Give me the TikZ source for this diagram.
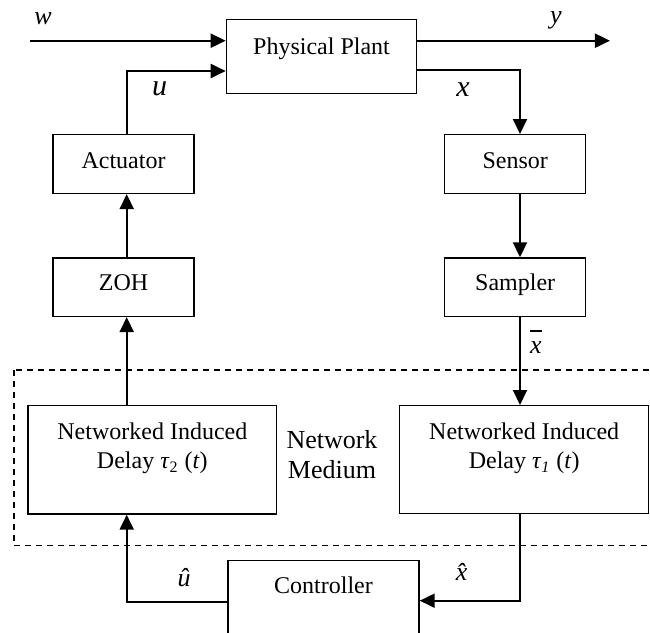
\documentclass[tikz,border=0pt]{standalone}
\usepackage{fontspec}
\setmainfont{Liberation Serif}
\usetikzlibrary{arrows.meta}
\tikzset{
  blk/.style={draw, line width=0.7pt, inner sep=0pt, anchor=north west, align=center,
    font=\fontsize{12}{14.5}\selectfont},
  sig/.style={line width=1pt, -{Triangle[length=7.5pt,width=7pt]}},
  lbl/.style={inner sep=0pt, font=\fontsize{13}{15}\selectfont\itshape},
  biglbl/.style={lbl, font=\fontsize{15}{17}\selectfont\itshape},
  medium/.style={line width=0.7pt, dash pattern=on 3pt off 2.5pt},
}
\begin{document}
\begin{tikzpicture}[x=0.5pt,y=-0.5pt]
\useasboundingbox (0,0) rectangle (650,633);
\def\lx{126.7};% left signal column
\def\rx{520};% right signal column
% network medium frame
\draw[medium] (14,370) rectangle (662,545.7);
% blocks
\node[blk, minimum width=95.15pt, text height=17.15pt, text depth=19.7pt] (plant) at (225.7,19) {Physical Plant};
\node[blk, minimum width=70.5pt, text height=16.65pt, text depth=12.7pt] (act) at (52.3,134) {Actuator};
\node[blk, minimum width=70.5pt, text height=16pt, text depth=13.2pt] (zoh) at (52.3,257.3) {ZOH};
\node[blk, minimum width=70.5pt, text height=16.65pt, text depth=12.7pt] (sens) at (444,134) {Sensor};
\node[blk, minimum width=70.5pt, text height=16pt, text depth=13.2pt] (samp) at (444,257.3) {Sampler};
\node[blk, minimum width=124.35pt, text height=31.5pt, text depth=22.65pt] (del2) at (27.3,405)
  {Networked Induced\\Delay \textit{τ}\textsubscript{2} (\textit{t})};
\node[blk, minimum width=124.5pt, text height=31.5pt, text depth=22.25pt] (del1) at (399,405)
  {Networked Induced\\Delay \textit{τ}\textsubscript{\textit{1}} (\textit{t})};
\node[blk, minimum width=95.5pt, text height=16.35pt, text depth=20.5pt] (ctrl) at (227.3,560) {Controller};
\node[align=center, inner sep=0pt, font=\fontsize{13}{15}\selectfont] (netmed) at (332,455) {Network\\Medium};
% turning points of the wires
\coordinate (win) at (30,40.7);
\coordinate (yout) at (610,40.7);
\coordinate (ul) at (\lx,71);
\coordinate (xr) at (\rx,70);
\coordinate (xh) at (\rx,600.7);
\coordinate (uh) at (\lx,602.3);
% wires
\draw[sig] (win) -- (win -| plant.west);
\draw[sig] (plant.east |- yout) -- (yout);
\draw[sig] (act.north -| ul) -- (ul) -- (ul -| plant.west);
\draw[sig] (xr -| plant.east) -- (xr) -- (sens.north -| xr);
\draw[sig] (sens.south -| xr) -- (samp.north -| xr);
\draw[sig] (samp.south -| xr) -- (del1.north -| xr);
\draw[sig] (del1.south -| xh) -- (xh) -- (xh -| ctrl.east);
\draw[sig] (uh -| ctrl.west) -- (uh) -- (del2.south -| uh);
\draw[sig] (del2.north -| ul) -- (zoh.south -| ul);
\draw[sig] (zoh.north -| ul) -- (act.south -| ul);
% signal names
\node[lbl] (lw) at (43,19) {w};
\node[lbl] (ly) at (556,20.5) {y};
\node[biglbl] (lu) at (159.7,89) {u};
\node[biglbl] (lx) at (463,90) {x};
\node[lbl, anchor=base] (lxbar) at (536,353.5) {\vbox{\hrule height 1pt\kern 5pt\hbox{x}}};
\node[lbl] (luhat) at (184,578) {\^u};
\node[lbl] (lxhat) at (461.7,571.7) {\^x};
\end{tikzpicture}
\end{document}
